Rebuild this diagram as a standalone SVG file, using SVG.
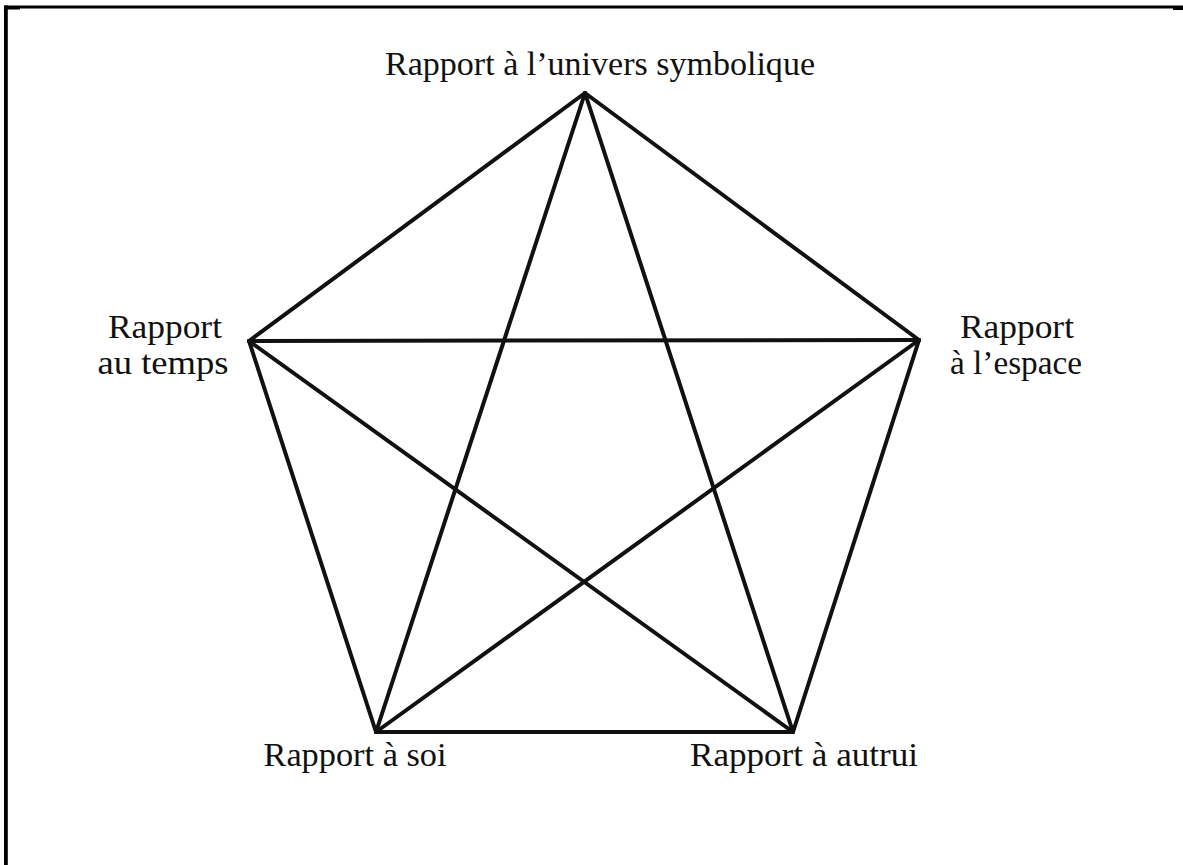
<svg xmlns="http://www.w3.org/2000/svg" width="1183" height="865" viewBox="0 0 1183 865">
  <style>
    .edge { stroke: #111; stroke-width: 4; stroke-linecap: round; fill: none; }
    .lbl { font-family: "Liberation Serif", "Times New Roman", serif; font-size: 33px; fill: #111; text-anchor: middle; }
    .frame { fill: #000; }
  </style>
  <rect width="1183" height="865" fill="#fff"/>
  <!-- page frame: top and left rules -->
  <g id="frame">
    <rect class="frame" x="4" y="5.5" width="1179" height="3"/>
    <rect class="frame" x="4" y="5.5" width="3.8" height="860"/>
    <rect class="frame" x="7" y="8" width="13" height="1.5"/>
    <rect class="frame" x="1173" y="8" width="10" height="2"/>
  </g>
  <!-- pentagon sides and pentagram diagonals -->
  <g id="connectors">
    <line class="edge" x1="585" y1="93" x2="249" y2="341"/>
    <line class="edge" x1="585" y1="93" x2="919" y2="340"/>
    <line class="edge" x1="249" y1="341" x2="376" y2="732"/>
    <line class="edge" x1="919" y1="340" x2="793" y2="732"/>
    <line class="edge" x1="376" y1="732" x2="793" y2="732"/>
    <line class="edge" x1="585" y1="93" x2="376" y2="732"/>
    <line class="edge" x1="585" y1="93" x2="793" y2="732"/>
    <line class="edge" x1="249" y1="341" x2="919" y2="340"/>
    <line class="edge" x1="249" y1="341" x2="793" y2="732"/>
    <line class="edge" x1="919" y1="340" x2="376" y2="732"/>
  </g>
  <g id="node-symbolique">
    <text class="lbl" x="600" y="75" textLength="430" lengthAdjust="spacingAndGlyphs">Rapport à l’univers symbolique</text>
  </g>
  <g id="node-temps">
    <text class="lbl" x="165" y="338" textLength="114" lengthAdjust="spacingAndGlyphs">Rapport</text>
    <text class="lbl" x="163" y="374" textLength="131" lengthAdjust="spacingAndGlyphs">au temps</text>
  </g>
  <g id="node-espace">
    <text class="lbl" x="1017" y="338" textLength="114" lengthAdjust="spacingAndGlyphs">Rapport</text>
    <text class="lbl" x="1016" y="374" textLength="132" lengthAdjust="spacingAndGlyphs">à l’espace</text>
  </g>
  <g id="node-soi">
    <text class="lbl" x="355" y="766" textLength="183" lengthAdjust="spacingAndGlyphs">Rapport à soi</text>
  </g>
  <g id="node-autrui">
    <text class="lbl" x="804" y="766" textLength="228" lengthAdjust="spacingAndGlyphs">Rapport à autrui</text>
  </g>
</svg>
